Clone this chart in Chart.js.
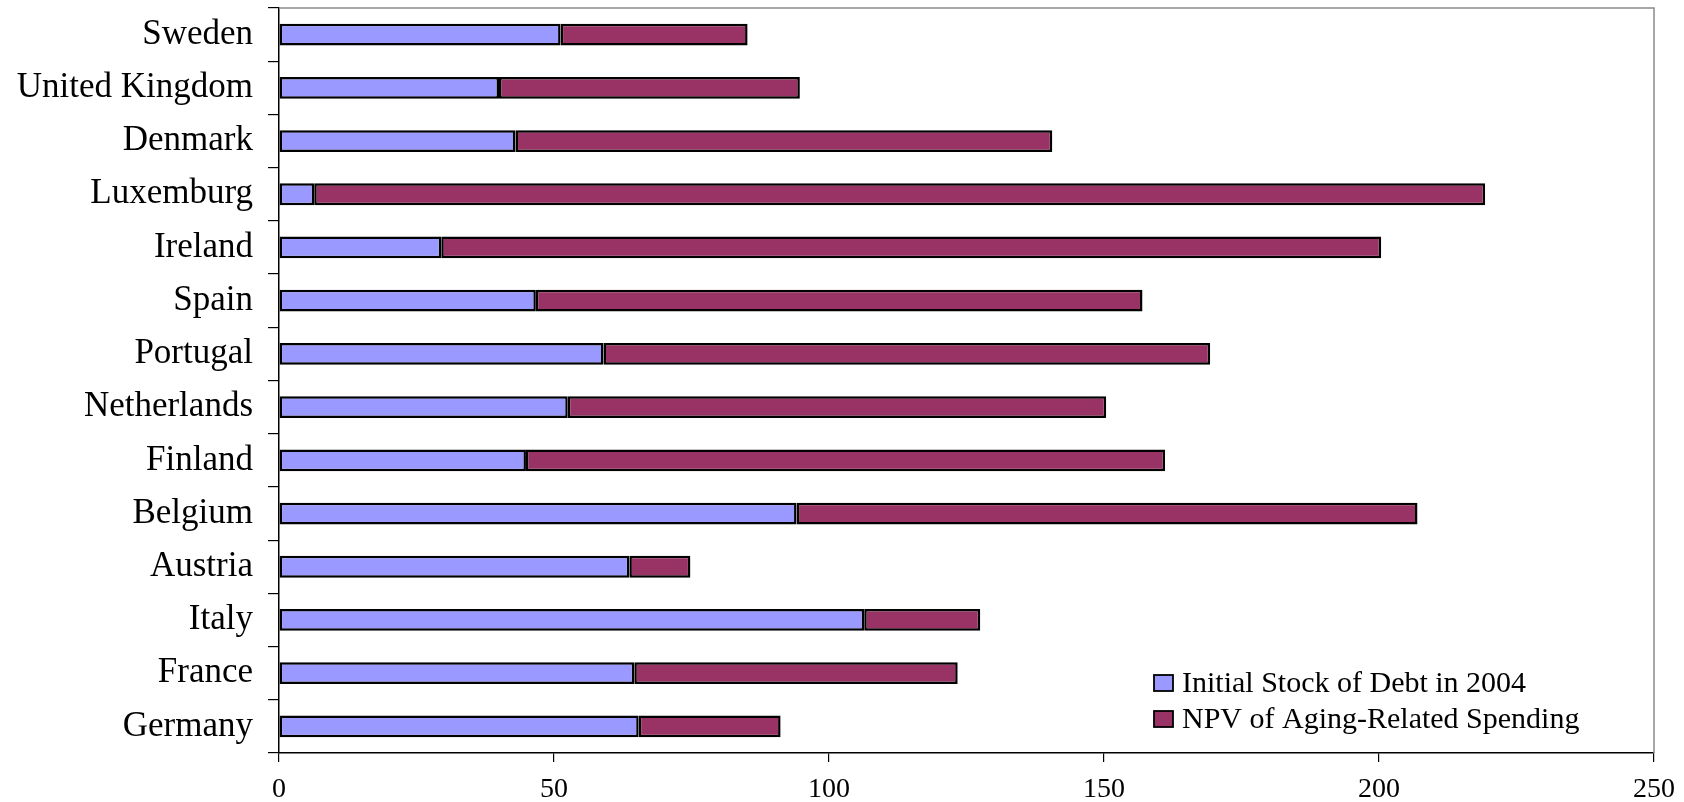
<!DOCTYPE html>
<html>
<head>
<meta charset="utf-8">
<title>Debt and aging-related spending</title>
<script src="https://cdn.jsdelivr.net/npm/chart.js@4/dist/chart.umd.min.js"></script>
<style>
  html, body { margin: 0; padding: 0; background: #ffffff; }
  #wrap { width: 1684px; height: 802px; }
</style>
</head>
<body>
<div id="wrap"><canvas id="debtChart" width="1684" height="802"></canvas></div>
<script>
// Countries, top to bottom
const countries = ['Sweden', 'United Kingdom', 'Denmark', 'Luxemburg', 'Ireland', 'Spain',
  'Portugal', 'Netherlands', 'Finland', 'Belgium', 'Austria', 'Italy', 'France', 'Germany'];

// Initial stock of debt in 2004 (% of GDP)
const debt2004 = [51.2, 40.0, 43.0, 6.4, 29.5, 46.7, 59.0, 52.5, 44.9, 94.1, 63.7, 106.4, 64.6, 65.4];

// Net present value of aging-related spending (% of GDP), stacked after the debt
const npvAging = [34.0, 54.7, 97.6, 212.9, 170.9, 110.3, 110.3, 97.9, 116.2, 112.9, 11.1, 21.1, 58.8, 25.8];

// Value axis ticks
const xTicks = [0, 50, 100, 150, 200, 250];

const seriesNames = ['Initial Stock of Debt in 2004', 'NPV of Aging-Related Spending'];

const SERIF = "'Liberation Serif', 'Times New Roman', serif";

// Grey frame on the top and right of the plot, plus the key in the lower right
const frameAndKey = {
  id: 'frameAndKey',
  afterDraw(chart) {
    const { ctx, chartArea: a } = chart;
    ctx.save();
    ctx.strokeStyle = '#8a8a8a';
    ctx.lineWidth = 1.5;
    ctx.beginPath();
    ctx.moveTo(a.left, a.top);
    ctx.lineTo(a.right, a.top);
    ctx.lineTo(a.right, a.bottom);
    ctx.stroke();

    const boxX = a.right - 500;
    const firstRow = a.bottom - 70;
    const rowGap = 36;
    ctx.font = '30px ' + SERIF;
    ctx.textBaseline = 'middle';
    ctx.textAlign = 'left';
    chart.data.datasets.forEach((ds, i) => {
      const cy = firstRow + i * rowGap;
      ctx.fillStyle = ds.backgroundColor;
      ctx.fillRect(boxX, cy - 8, 19, 16);
      ctx.strokeStyle = '#000000';
      ctx.lineWidth = 1.8;
      ctx.strokeRect(boxX, cy - 8, 19, 16);
      ctx.fillStyle = '#000000';
      ctx.fillText(ds.label, boxX + 28, cy + 1);
    });
    ctx.restore();
  }
};

new Chart(document.getElementById('debtChart'), {
  type: 'bar',
  data: {
    labels: countries,
    datasets: [
      {
        label: seriesNames[0],
        data: debt2004,
        backgroundColor: '#9999FF',
        borderColor: '#000000',
        borderWidth: 2.5,
        borderSkipped: false,
        barPercentage: 0.41,
        categoryPercentage: 1.0
      },
      {
        label: seriesNames[1],
        data: npvAging,
        backgroundColor: '#993366',
        borderColor: '#000000',
        borderWidth: 2.5,
        borderSkipped: false,
        barPercentage: 0.41,
        categoryPercentage: 1.0
      }
    ]
  },
  options: {
    indexAxis: 'y',
    responsive: false,
    devicePixelRatio: 1,
    animation: false,
    layout: { padding: { left: 0, top: 8, right: 30, bottom: 0 } },
    plugins: {
      legend: { display: false },
      tooltip: { enabled: false }
    },
    scales: {
      x: {
        stacked: true,
        min: 0,
        max: 250,
        afterBuildTicks(scale) {
          scale.ticks = xTicks.map(v => ({ value: v }));
        },
        afterFit(scale) {
          scale.height = 49;
          scale.paddingLeft = 0;
          scale.paddingRight = 0;
        },
        border: { display: true, color: '#000000', width: 1.5 },
        grid: {
          drawOnChartArea: false,
          drawTicks: true,
          tickLength: 9,
          color: '#000000',
          lineWidth: 1.2
        },
        ticks: {
          color: '#000000',
          padding: 11,
          maxRotation: 0,
          font: { family: SERIF, size: 28 }
        }
      },
      y: {
        stacked: true,
        afterFit(scale) {
          scale.width = 279;
          scale.paddingTop = 0;
          scale.paddingBottom = 0;
        },
        border: { display: true, color: '#000000', width: 1.5 },
        grid: {
          offset: true,
          drawOnChartArea: false,
          drawTicks: true,
          tickLength: 11,
          color: '#000000',
          lineWidth: 1.2
        },
        ticks: {
          color: '#000000',
          padding: 15,
          autoSkip: false,
          font: { family: SERIF, size: 35 }
        }
      }
    }
  },
  plugins: [frameAndKey]
});
</script>
</body>
</html>
